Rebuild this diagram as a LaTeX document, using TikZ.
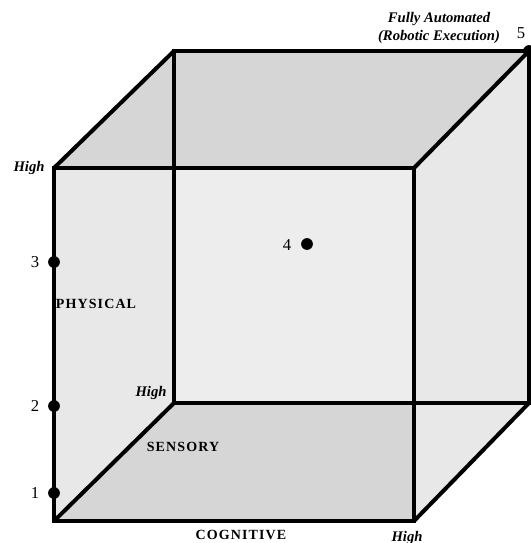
\documentclass[tikz,border=0pt]{standalone}
\usepackage{fontspec}
\setmainfont{Liberation Serif}
\definecolor{darkface}{HTML}{D6D6D6}
\definecolor{sideface}{HTML}{E8E8E8}
\definecolor{backface}{HTML}{ECEDEC}
\begin{document}
\begin{tikzpicture}[x=0.75pt,y=-0.75pt,
  edge/.style={line width=3pt,line join=miter},
  dot/.style={circle,fill=black,inner sep=0pt,minimum size=8.8pt},
  axis/.style={font=\fontsize{10.5}{12}\selectfont\bfseries\addfontfeature{LetterSpace=8}},
  hi/.style={font=\fontsize{11}{13}\selectfont\bfseries\itshape},
  num/.style={font=\fontsize{12.5}{14}\selectfont}]
\useasboundingbox (0,0) rectangle (531,543);
% corners of the cube
\coordinate (fTL) at (54,168);
\coordinate (fTR) at (414,168);
\coordinate (fBR) at (414,521);
\coordinate (fBL) at (54,521);
\coordinate (bTL) at (174,51);
\coordinate (bTR) at (529,51);
\coordinate (bBR) at (529,403);
\coordinate (bBL) at (174,403);
% faces
\fill[backface] (bTL) -- (bTR) -- (bBR) -- (bBL) -- cycle;
\fill[sideface] (fTL) -- (bTL) -- (bBL) -- (fBL) -- cycle;
\fill[darkface] (fTL) -- (bTL) -- (bTR) -- (fTR) -- cycle;
\fill[darkface] (fBL) -- (bBL) -- (bBR) -- (fBR) -- cycle;
\fill[sideface] (fTR) -- (bTR) -- (bBR) -- (fBR) -- cycle;
% edges
\draw[edge] (bTL) -- (bTR) -- (bBR) -- (bBL) -- cycle;
\draw[edge] (fTL) -- (fTR) -- (fBR) -- (fBL) -- cycle;
\draw[edge] (fTL) -- (bTL);
\draw[edge] (fTR) -- (bTR);
\draw[edge] (fBR) -- (bBR);
\draw[edge] (fBL) -- (bBL);
% labels
\node[hi, align=center] (auto) at (439,28) {Fully Automated\\(Robotic Execution)};
\node[hi] (hiP) at (29,168) {High};
\node[hi] (hiS) at (151,393) {High};
\node[hi] (hiC) at (407,538) {High};
\node[axis] (phys) at (96,304) {PHYSICAL};
\node[axis] (sens) at (183,447) {SENSORY};
\node[axis] (cogn) at (241,535) {COGNITIVE};
% points
\node[dot] (p1) at (54,493) {};
\node[dot] (p2) at (54,406) {};
\node[dot] (p3) at (54,262) {};
\node[dot] (p4) at (307,244) {};
\node[dot] (p5) at (529,51) {};
\node[num] (n1) at (35,493) {1};
\node[num] (n2) at (35,406) {2};
\node[num] (n3) at (35,262) {3};
\node[num] (n4) at (287,245) {4};
\node[num] (n5) at (521,33) {5};
\end{tikzpicture}
\end{document}
